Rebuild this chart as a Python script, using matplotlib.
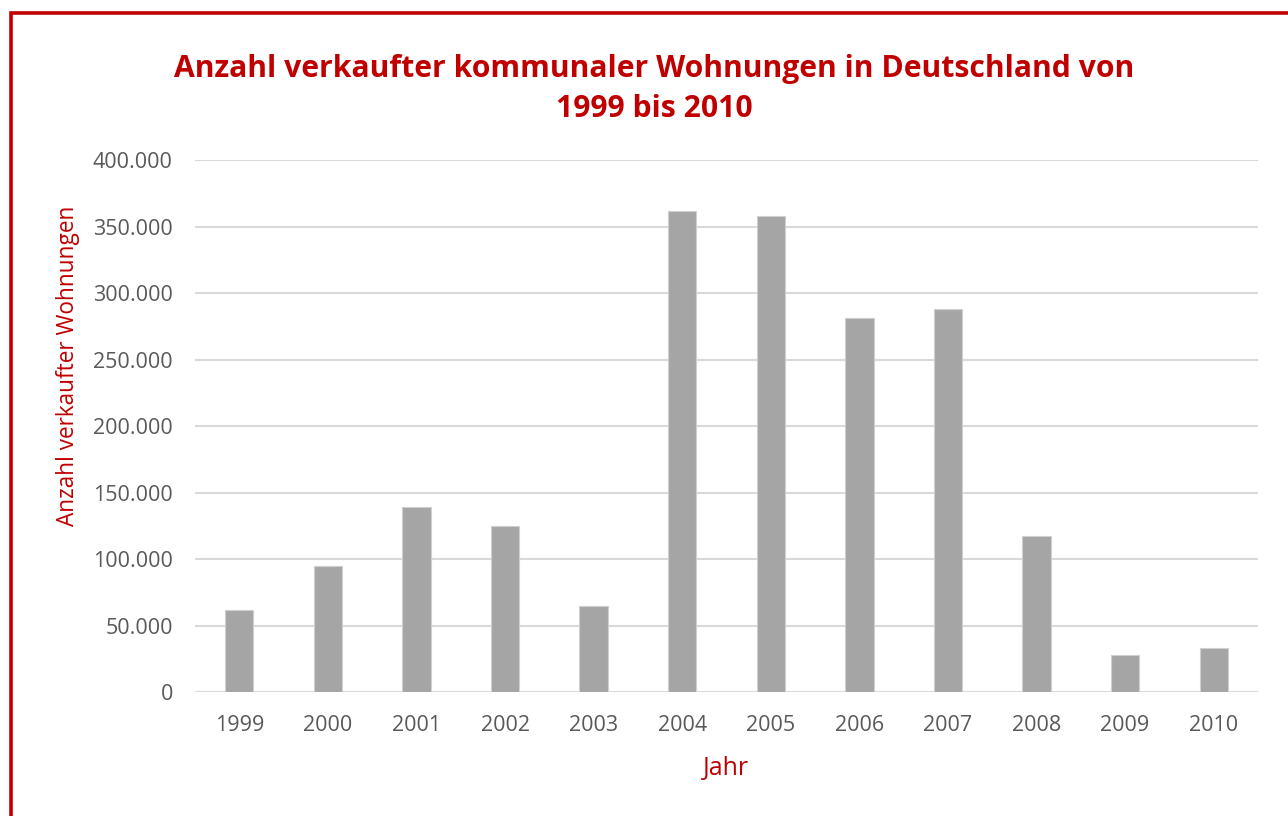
import matplotlib.pyplot as plt
from matplotlib.patches import Rectangle
from matplotlib.ticker import FuncFormatter, MultipleLocator

# Daten: verkaufte kommunale Wohnungen pro Jahr
jahre = ['1999', '2000', '2001', '2002', '2003', '2004',
         '2005', '2006', '2007', '2008', '2009', '2010']
verkaeufe = [62000, 95000, 139000, 125000, 65000, 362000,
             358000, 281500, 288000, 117500, 28000, 33000]

rot = '#C00000'
grau_text = '#595959'

plt.rcParams['font.family'] = ['Open Sans', 'DejaVu Sans']

fig = plt.figure(figsize=(12.88, 8.16), dpi=100)
ax = fig.add_axes([0.1514, 0.1516, 0.8253, 0.6523])

ax.bar(range(len(jahre)), verkaeufe, width=0.32, color='#A5A5A5',
       edgecolor='#D0D0D0', linewidth=0.8, zorder=3)

ax.set_xlim(-0.5, len(jahre) - 0.5)
ax.set_ylim(0, 400000)
ax.yaxis.set_major_locator(MultipleLocator(50000))
ax.yaxis.set_major_formatter(FuncFormatter(lambda v, p: f'{int(v):,}'.replace(',', '.')))
ax.set_xticks(range(len(jahre)))
ax.set_xticklabels(jahre)

ax.grid(axis='y', color='#D9D9D9', linewidth=1.5, zorder=0)
for s in ax.spines.values():
    s.set_visible(False)
ax.tick_params(axis='both', length=0, labelsize=15.5, labelcolor=grau_text)
ax.tick_params(axis='y', pad=16)
ax.tick_params(axis='x', pad=16)

ax.set_ylabel('Anzahl verkaufter Wohnungen', color=rot, fontsize=16.3)
ax.yaxis.set_label_coords(-0.108, 0.614)
ax.set_xlabel('Jahr', color=rot, fontsize=18, labelpad=15)

fig.text(0.508, 0.891, 'Anzahl verkaufter kommunaler Wohnungen in Deutschland von\n1999 bis 2010',
         ha='center', va='center', color=rot, fontsize=21.7, fontweight='bold',
         linespacing=1.42)

# roter Rahmen (unten und rechts abgeschnitten)
fig.patches.append(Rectangle((10.5 / 1288, -0.05), 1.2, 1.05 - 12.5 / 816,
                             transform=fig.transFigure, fill=False,
                             edgecolor=rot, linewidth=2.6))

fig.savefig('out.png', dpi=100)
